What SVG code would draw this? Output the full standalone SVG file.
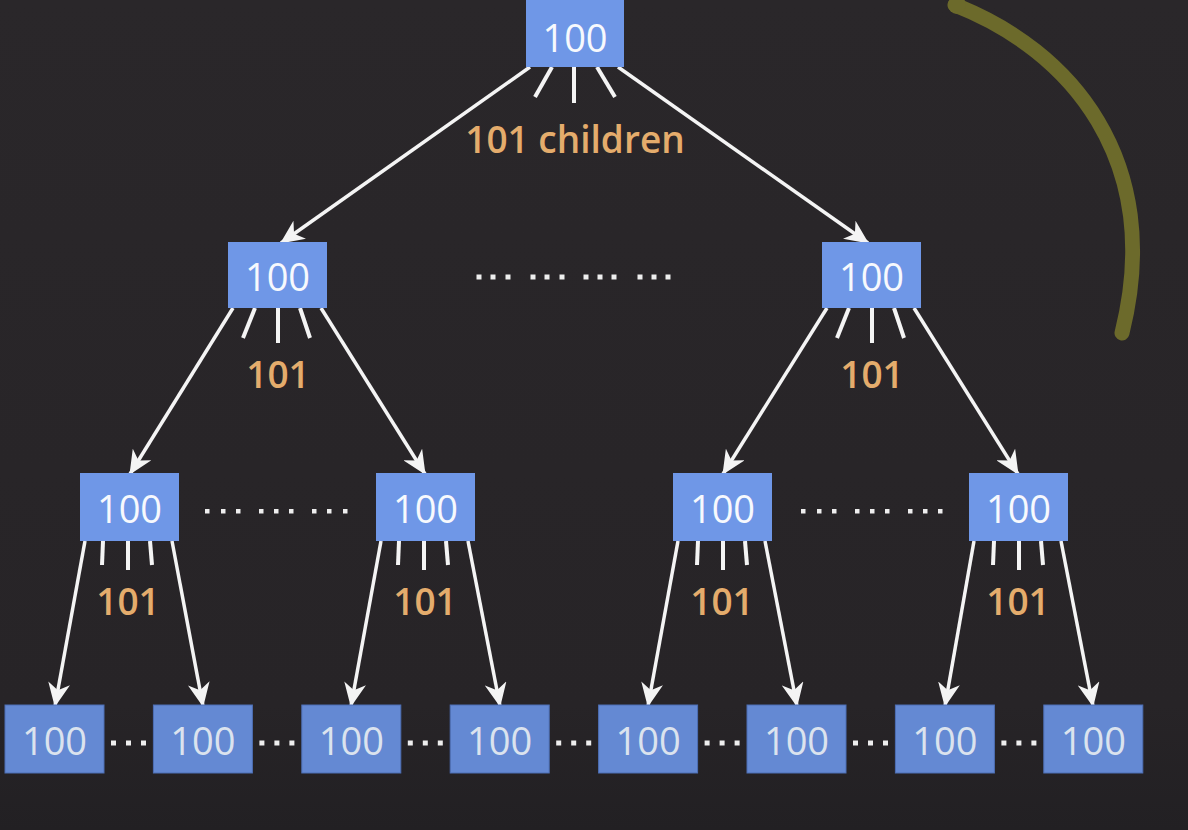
<svg xmlns="http://www.w3.org/2000/svg" width="1188" height="830" viewBox="0 0 1188 830">
<defs>
<style>
.box{fill:#6f97e7}
.box4{fill:#6489d3;stroke:#4d6fb5;stroke-width:1}
.num{font-family:"Open Sans","Liberation Sans",sans-serif;font-size:38px;fill:#f7f9fd;text-anchor:middle;font-weight:500}
.num4{font-family:"Open Sans","Liberation Sans",sans-serif;font-size:38px;fill:#dbe3ee;text-anchor:middle;font-weight:500}
.lab{font-family:"Open Sans","Liberation Sans",sans-serif;font-size:37px;fill:#e4ac6c;text-anchor:middle;font-weight:600}
.edge{stroke:#f4f4f4;stroke-width:3.5;fill:none;marker-end:url(#ah)}
.stub{stroke:#f4f4f4;stroke-width:4;fill:none}
.dot{fill:#eeeeee}
</style>
<linearGradient id="bg" x1="0" y1="0" x2="0" y2="1">
<stop offset="0" stop-color="#2a272a"/>
<stop offset="0.85" stop-color="#272427"/>
<stop offset="1" stop-color="#222023"/>
</linearGradient>
<marker id="ah" viewBox="0 0 24 22" markerWidth="24" markerHeight="22" refX="23" refY="11" orient="auto" markerUnits="userSpaceOnUse">
<path d="M0,0 L24,11 L0,22 L7,11 z" fill="#f4f4f4"/>
</marker>
</defs>
<rect width="1188" height="830" fill="url(#bg)"/>

<path d="M955 5 C 1070 50, 1165 160, 1122 333" stroke="#6c6a2b" stroke-width="15" fill="none" stroke-linecap="round"/>
<circle cx="957" cy="5" r="9" fill="#6c6a2b"/>

<g id="connectors">
<line class="edge" x1="530" y1="67" x2="281" y2="243"/>
<line class="edge" x1="618" y1="67" x2="868" y2="243"/>
<line class="edge" x1="233" y1="308" x2="130" y2="474"/>
<line class="edge" x1="321" y1="308" x2="425" y2="474"/>
<line class="edge" x1="827" y1="308" x2="723" y2="474"/>
<line class="edge" x1="914" y1="308" x2="1018" y2="474"/>
<line class="edge" x1="85" y1="541" x2="55" y2="706"/>
<line class="edge" x1="172" y1="541" x2="203" y2="706"/>
<line class="edge" x1="381" y1="541" x2="351" y2="706"/>
<line class="edge" x1="468" y1="541" x2="500" y2="706"/>
<line class="edge" x1="678" y1="541" x2="648" y2="706"/>
<line class="edge" x1="765" y1="541" x2="797" y2="706"/>
<line class="edge" x1="974" y1="541" x2="945" y2="706"/>
<line class="edge" x1="1061" y1="541" x2="1093" y2="706"/>
<line class="stub" x1="552" y1="67" x2="535" y2="97"/>
<line class="stub" x1="574" y1="67" x2="574" y2="103"/>
<line class="stub" x1="597" y1="67" x2="615" y2="97"/>
<line class="stub" x1="255" y1="308" x2="243" y2="338"/>
<line class="stub" x1="278" y1="308" x2="278" y2="343"/>
<line class="stub" x1="300" y1="308" x2="310" y2="338"/>
<line class="stub" x1="849" y1="308" x2="837" y2="338"/>
<line class="stub" x1="872" y1="308" x2="872" y2="343"/>
<line class="stub" x1="894" y1="308" x2="904" y2="338"/>
<line class="stub" x1="103" y1="541" x2="102" y2="565"/>
<line class="stub" x1="128" y1="541" x2="128" y2="570"/>
<line class="stub" x1="150" y1="541" x2="152" y2="565"/>
<line class="stub" x1="399" y1="541" x2="398" y2="565"/>
<line class="stub" x1="424" y1="541" x2="424" y2="570"/>
<line class="stub" x1="446" y1="541" x2="448" y2="565"/>
<line class="stub" x1="698" y1="541" x2="697" y2="565"/>
<line class="stub" x1="723" y1="541" x2="723" y2="570"/>
<line class="stub" x1="745" y1="541" x2="747" y2="565"/>
<line class="stub" x1="994" y1="541" x2="993" y2="565"/>
<line class="stub" x1="1019" y1="541" x2="1019" y2="570"/>
<line class="stub" x1="1041" y1="541" x2="1043" y2="565"/>
</g>

<g id="labels">
<text class="lab" x="575" y="153">101 children</text>
<text class="lab" x="278" y="388">101</text>
<text class="lab" x="872" y="388">101</text>
<text class="lab" x="128" y="615">101</text>
<text class="lab" x="425" y="615">101</text>
<text class="lab" x="722" y="615">101</text>
<text class="lab" x="1018" y="615">101</text>
</g>

<g id="dots">
<rect class="dot" x="476.5" y="274.5" width="5" height="5"/><rect class="dot" x="490.5" y="274.5" width="5" height="5"/><rect class="dot" x="505.5" y="274.5" width="5" height="5"/>
<rect class="dot" x="530.5" y="274.5" width="5" height="5"/><rect class="dot" x="544.5" y="274.5" width="5" height="5"/><rect class="dot" x="559.5" y="274.5" width="5" height="5"/>
<rect class="dot" x="583.5" y="274.5" width="5" height="5"/><rect class="dot" x="597.5" y="274.5" width="5" height="5"/><rect class="dot" x="611.5" y="274.5" width="5" height="5"/>
<rect class="dot" x="637.5" y="274.5" width="5" height="5"/><rect class="dot" x="651.5" y="274.5" width="5" height="5"/><rect class="dot" x="665.5" y="274.5" width="5" height="5"/>

<rect class="dot" x="205" y="509" width="4.5" height="4.5"/><rect class="dot" x="221" y="509" width="4.5" height="4.5"/><rect class="dot" x="236" y="509" width="4.5" height="4.5"/>
<rect class="dot" x="259" y="509" width="4.5" height="4.5"/><rect class="dot" x="274" y="509" width="4.5" height="4.5"/><rect class="dot" x="289" y="509" width="4.5" height="4.5"/>
<rect class="dot" x="312" y="509" width="4.5" height="4.5"/><rect class="dot" x="327" y="509" width="4.5" height="4.5"/><rect class="dot" x="343" y="509" width="4.5" height="4.5"/>

<rect class="dot" x="801" y="509" width="4.5" height="4.5"/><rect class="dot" x="817" y="509" width="4.5" height="4.5"/><rect class="dot" x="832" y="509" width="4.5" height="4.5"/>
<rect class="dot" x="855" y="509" width="4.5" height="4.5"/><rect class="dot" x="870" y="509" width="4.5" height="4.5"/><rect class="dot" x="885" y="509" width="4.5" height="4.5"/>
<rect class="dot" x="908" y="509" width="4.5" height="4.5"/><rect class="dot" x="923" y="509" width="4.5" height="4.5"/><rect class="dot" x="938" y="509" width="4.5" height="4.5"/>

<rect class="dot" x="111" y="740.5" width="5" height="5"/><rect class="dot" x="126" y="740.5" width="5" height="5"/><rect class="dot" x="141" y="740.5" width="5" height="5"/>
<rect class="dot" x="259.4" y="740.5" width="5" height="5"/><rect class="dot" x="274.4" y="740.5" width="5" height="5"/><rect class="dot" x="289.4" y="740.5" width="5" height="5"/>
<rect class="dot" x="407.8" y="740.5" width="5" height="5"/><rect class="dot" x="422.8" y="740.5" width="5" height="5"/><rect class="dot" x="437.8" y="740.5" width="5" height="5"/>
<rect class="dot" x="556.2" y="740.5" width="5" height="5"/><rect class="dot" x="571.2" y="740.5" width="5" height="5"/><rect class="dot" x="586.2" y="740.5" width="5" height="5"/>
<rect class="dot" x="704.6" y="740.5" width="5" height="5"/><rect class="dot" x="719.6" y="740.5" width="5" height="5"/><rect class="dot" x="734.6" y="740.5" width="5" height="5"/>
<rect class="dot" x="853" y="740.5" width="5" height="5"/><rect class="dot" x="868" y="740.5" width="5" height="5"/><rect class="dot" x="883" y="740.5" width="5" height="5"/>
<rect class="dot" x="1001.4" y="740.5" width="5" height="5"/><rect class="dot" x="1016.4" y="740.5" width="5" height="5"/><rect class="dot" x="1031.4" y="740.5" width="5" height="5"/>
</g>

<g id="root"><rect class="box" x="526" y="-1" width="98" height="68"/><text class="num" x="575" y="52">100</text></g>

<g id="n2a"><rect class="box" x="228" y="242" width="99" height="66"/><text class="num" x="277.5" y="291">100</text></g>
<g id="n2b"><rect class="box" x="822" y="242" width="99" height="66"/><text class="num" x="871.5" y="291">100</text></g>

<g id="n3a"><rect class="box" x="80" y="473" width="99" height="68"/><text class="num" x="129.5" y="523">100</text></g>
<g id="n3b"><rect class="box" x="376" y="473" width="99" height="68"/><text class="num" x="425.5" y="523">100</text></g>
<g id="n3c"><rect class="box" x="673" y="473" width="99" height="68"/><text class="num" x="722.5" y="523">100</text></g>
<g id="n3d"><rect class="box" x="969" y="473" width="99" height="68"/><text class="num" x="1018.5" y="523">100</text></g>

<g id="n4a"><rect class="box4" x="5" y="705" width="99" height="68"/><text class="num4" x="54.5" y="755">100</text></g>
<g id="n4b"><rect class="box4" x="153.4" y="705" width="99" height="68"/><text class="num4" x="202.9" y="755">100</text></g>
<g id="n4c"><rect class="box4" x="301.8" y="705" width="99" height="68"/><text class="num4" x="351.3" y="755">100</text></g>
<g id="n4d"><rect class="box4" x="450.2" y="705" width="99" height="68"/><text class="num4" x="499.7" y="755">100</text></g>
<g id="n4e"><rect class="box4" x="598.6" y="705" width="99" height="68"/><text class="num4" x="648.1" y="755">100</text></g>
<g id="n4f"><rect class="box4" x="747" y="705" width="99" height="68"/><text class="num4" x="796.5" y="755">100</text></g>
<g id="n4g"><rect class="box4" x="895.4" y="705" width="99" height="68"/><text class="num4" x="944.9" y="755">100</text></g>
<g id="n4h"><rect class="box4" x="1043.8" y="705" width="99" height="68"/><text class="num4" x="1093.3" y="755">100</text></g>
</svg>
